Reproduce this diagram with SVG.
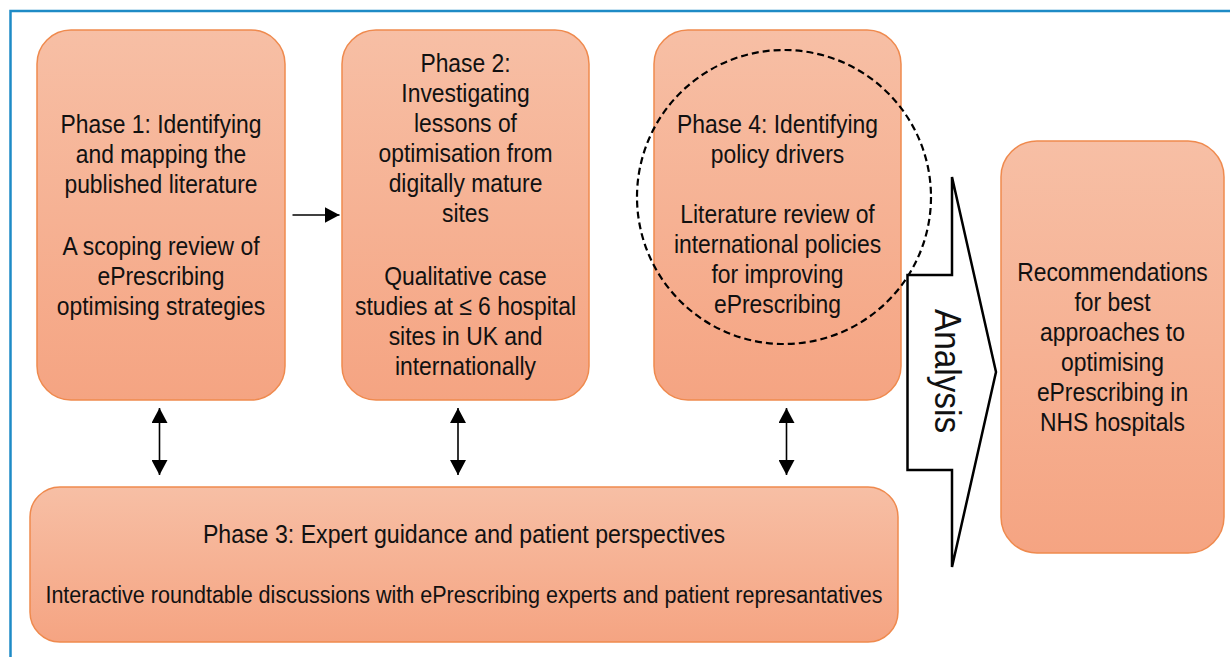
<svg xmlns="http://www.w3.org/2000/svg" width="1230" height="657" viewBox="0 0 1230 657">
  <defs>
    <linearGradient id="boxGrad" x1="0" y1="0" x2="0" y2="1">
      <stop offset="0" stop-color="#F7BFA5"/>
      <stop offset="1" stop-color="#F5A482"/>
    </linearGradient>
    <marker id="arrowBig" viewBox="0 0 15 16" refX="15" refY="8" markerWidth="15" markerHeight="16" markerUnits="userSpaceOnUse" orient="auto-start-reverse">
      <path d="M0,0 L15,8 L0,16 Z" fill="#000"/>
    </marker>
  </defs>
  <style>
    .box { fill: url(#boxGrad); stroke: #EF8A4E; stroke-width: 1.5; }
    .t { font-family: "Liberation Sans", Arial, sans-serif; font-size: 26px; fill: #111; text-anchor: middle; }
    .t3 { font-family: "Liberation Sans", Arial, sans-serif; font-size: 24.5px; fill: #111; text-anchor: middle; }
    .conn { stroke: #000; stroke-width: 1.6; fill: none; }
    .frame { stroke: #1E8BC6; stroke-width: 2.5; fill: none; }
  </style>

  <rect width="1230" height="657" fill="#fff"/>
  <path class="frame" d="M10.5,657 L10.5,11 L1230,11"/>

  <g id="phase1">
    <rect class="box" x="37" y="30" width="248" height="370" rx="34" ry="34"/>
    <g transform="translate(161,0) scale(0.88,1)">
      <text class="t" x="0" y="133">Phase 1: Identifying</text>
      <text class="t" x="0" y="163">and mapping the</text>
      <text class="t" x="0" y="193">published literature</text>
      <text class="t" x="0" y="255">A scoping review of</text>
      <text class="t" x="0" y="285">ePrescribing</text>
      <text class="t" x="0" y="315">optimising strategies</text>
    </g>
  </g>

  <g id="phase2">
    <rect class="box" x="342" y="30" width="247" height="370" rx="34" ry="34"/>
    <g transform="translate(465.5,0) scale(0.88,1)">
      <text class="t" x="0" y="72">Phase 2:</text>
      <text class="t" x="0" y="102">Investigating</text>
      <text class="t" x="0" y="132">lessons of</text>
      <text class="t" x="0" y="162">optimisation from</text>
      <text class="t" x="0" y="192">digitally mature</text>
      <text class="t" x="0" y="222">sites</text>
      <text class="t" x="0" y="285">Qualitative case</text>
      <text class="t" x="0" y="315">studies at ≤ 6 hospital</text>
      <text class="t" x="0" y="345">sites in UK and</text>
      <text class="t" x="0" y="375">internationally</text>
    </g>
  </g>

  <g id="phase4">
    <rect class="box" x="654" y="30" width="247" height="370" rx="34" ry="34"/>
    <g transform="translate(777.5,0) scale(0.88,1)">
      <text class="t" x="0" y="133">Phase 4: Identifying</text>
      <text class="t" x="0" y="163">policy drivers</text>
      <text class="t" x="0" y="223">Literature review of</text>
      <text class="t" x="0" y="253">international policies</text>
      <text class="t" x="0" y="283">for improving</text>
      <text class="t" x="0" y="313">ePrescribing</text>
    </g>
  </g>

  <g id="phase4-circle">
    <circle cx="784" cy="197" r="147" fill="none" stroke="#000" stroke-width="2.2" stroke-dasharray="7,4"/>
  </g>

  <g id="phase3">
    <rect class="box" x="30" y="487" width="868" height="155" rx="30" ry="30"/>
    <g transform="translate(464,0) scale(0.88,1)">
      <text class="t3" x="0" y="543" style="font-size:26.3px">Phase 3: Expert guidance and patient perspectives</text>
      <text class="t3" x="0" y="603">Interactive roundtable discussions with ePrescribing experts and patient represantatives</text>
    </g>
  </g>

  <g id="analysis">
    <polygon points="952,177 996,372 952,567 952,470 907.5,470 907.5,275 952,275" fill="#fff" stroke="#000" stroke-width="2.5" stroke-linejoin="miter"/>
    <g transform="translate(935,371) rotate(90) scale(0.89,1)">
      <text x="0" y="0" text-anchor="middle" font-family="Liberation Sans, Arial, sans-serif" font-size="37.5" fill="#111">Analysis</text>
    </g>
  </g>

  <g id="recommendations">
    <rect class="box" x="1001" y="141" width="223" height="412" rx="36" ry="36"/>
    <g transform="translate(1112.5,0) scale(0.88,1)">
      <text class="t" x="0" y="281">Recommendations</text>
      <text class="t" x="0" y="311">for best</text>
      <text class="t" x="0" y="341">approaches to</text>
      <text class="t" x="0" y="371">optimising</text>
      <text class="t" x="0" y="401">ePrescribing in</text>
      <text class="t" x="0" y="431">NHS hospitals</text>
    </g>
  </g>

  <g id="connectors">
    <line class="conn" x1="292.5" y1="215" x2="339.5" y2="215" marker-end="url(#arrowBig)"/>
    <line class="conn" x1="159.5" y1="408" x2="159.5" y2="475" marker-start="url(#arrowBig)" marker-end="url(#arrowBig)"/>
    <line class="conn" x1="458" y1="408" x2="458" y2="475" marker-start="url(#arrowBig)" marker-end="url(#arrowBig)"/>
    <line class="conn" x1="786.5" y1="408" x2="786.5" y2="475" marker-start="url(#arrowBig)" marker-end="url(#arrowBig)"/>
  </g>
</svg>
